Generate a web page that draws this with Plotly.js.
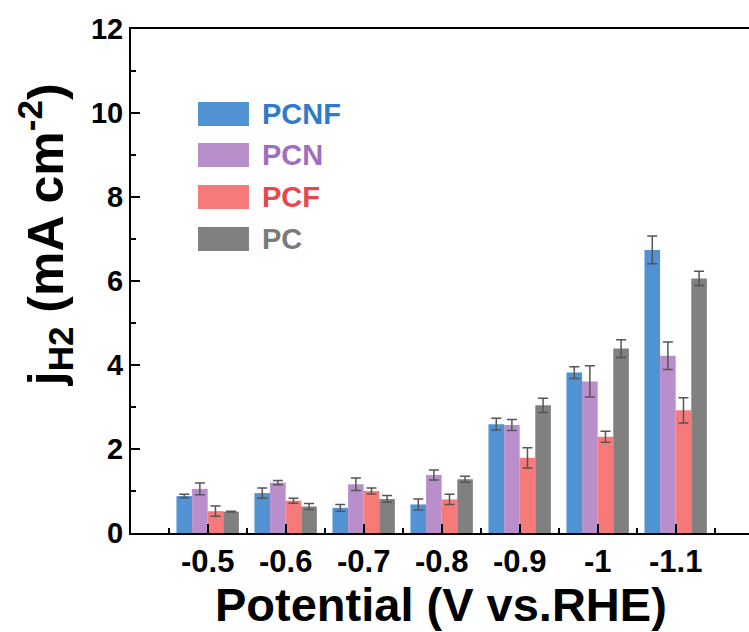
<!DOCTYPE html>
<html>
<head>
<meta charset="utf-8">
<script src="https://cdn.plot.ly/plotly-3.0.1.min.js"></script>
<style>html,body{margin:0;padding:0;background:#fff;}#chart{width:749px;height:632px;}</style>
</head>
<body>
<div id="chart"></div>
<script>
// Data
const potentials = ['-0.5', '-0.6', '-0.7', '-0.8', '-0.9', '-1', '-1.1'];
const seriesNames = ['PCNF', 'PCN', 'PCF', 'PC'];
const pcnf = [0.88, 0.95, 0.60, 0.68, 2.59, 3.82, 6.74];
const pcnfErr = [0.04, 0.12, 0.08, 0.13, 0.14, 0.14, 0.33];
const pcn = [1.05, 1.20, 1.16, 1.38, 2.57, 3.61, 4.22];
const pcnErr = [0.14, 0.05, 0.15, 0.12, 0.13, 0.37, 0.33];
const pcf = [0.52, 0.77, 1.00, 0.80, 1.79, 2.29, 2.92];
const pcfErr = [0.12, 0.06, 0.07, 0.12, 0.24, 0.13, 0.30];
const pc = [0.51, 0.63, 0.81, 1.28, 3.04, 4.39, 6.06];
const pcErr = [0.01, 0.07, 0.08, 0.07, 0.17, 0.21, 0.17];
const yTicks = [0, 2, 4, 6, 8, 10, 12];

const barColors = ['#5092d2', '#b88fca', '#f77a7a', '#808080'];
const textColors = ['#2f7cc6', '#a26dbc', '#e8474b', '#7a7a7a'];
const values = [pcnf, pcn, pcf, pc];
const errors = [pcnfErr, pcnErr, pcfErr, pcErr];
const xIdx = potentials.map((p, i) => i);

const FONT = 'Liberation Sans, Arial, Helvetica, sans-serif';

const traces = seriesNames.map((name, k) => ({
  type: 'bar',
  name: name,
  x: xIdx,
  y: values[k],
  marker: {color: barColors[k], line: {width: 0}},
  error_y: {type: 'data', array: errors[k], visible: true, color: '#555555', thickness: 1.5, width: 5},
  showlegend: false
}));

// custom legend (large swatches + colored labels)
const shapes = [];
const annotations = [];
const legY = [0.8313, 0.75, 0.6667, 0.5833];
seriesNames.forEach((name, k) => {
  shapes.push({type: 'rect', xref: 'paper', yref: 'paper',
    x0: 0.1084, x1: 0.1909, y0: legY[k] - 0.0238, y1: legY[k] + 0.0238,
    fillcolor: barColors[k], line: {width: 0}});
  annotations.push({xref: 'paper', yref: 'paper', x: 0.2087, y: legY[k],
    xanchor: 'left', yanchor: 'middle', showarrow: false, text: name,
    font: {family: FONT, size: 29, weight: 'bold', color: textColors[k]}});
});
annotations.push({xref: 'paper', yref: 'paper', x: -0.139, y: 0.591, textangle: -90,
  xanchor: 'center', yanchor: 'middle', showarrow: false,
  text: 'j<sub>H2</sub> (mA cm<sup>-2</sup>)',
  font: {family: FONT, size: 50, weight: 'bold', color: '#000'}});
annotations.push({xref: 'paper', yref: 'paper', x: 0.5016, y: -0.1409,
  xanchor: 'center', yanchor: 'middle', showarrow: false,
  text: 'Potential (V vs.RHE)',
  font: {family: FONT, size: 47, weight: 'bold', color: '#000'}});

const layout = {
  width: 749, height: 632,
  margin: {l: 131, r: 0, t: 29, b: 99, pad: 0},
  paper_bgcolor: '#fff', plot_bgcolor: '#fff',
  barmode: 'group', bargap: 0.2, bargroupgap: 0,
  font: {family: FONT, color: '#000'},
  xaxis: {
    type: 'linear', range: [-0.983, 6.94],
    tickmode: 'array', tickvals: xIdx, ticktext: potentials,
    ticks: 'inside', ticklen: 9, tickwidth: 2, tickcolor: '#000',
    minor: {tickmode: 'linear', tick0: 0.5, dtick: 1, ticks: 'inside', ticklen: 5, tickwidth: 2, tickcolor: '#000', showgrid: false},
    showline: true, linewidth: 2, linecolor: '#000', mirror: true,
    showgrid: false, zeroline: false,
    tickfont: {family: FONT, size: 31, weight: 'bold', color: '#000'}
  },
  yaxis: {
    range: [0, 12], tickmode: 'array', tickvals: yTicks,
    ticks: 'inside', ticklen: 9, tickwidth: 2, tickcolor: '#000',
    minor: {tickmode: 'linear', tick0: 1, dtick: 2, ticks: 'inside', ticklen: 5, tickwidth: 2, tickcolor: '#000', showgrid: false},
    showline: true, linewidth: 2, linecolor: '#000',
    showgrid: false, zeroline: false,
    tickfont: {family: FONT, size: 29, weight: 'bold', color: '#000'}
  },
  shapes: shapes,
  annotations: annotations
};

Plotly.newPlot('chart', traces, layout, {staticPlot: true, displayModeBar: false});
</script>
</body>
</html>
